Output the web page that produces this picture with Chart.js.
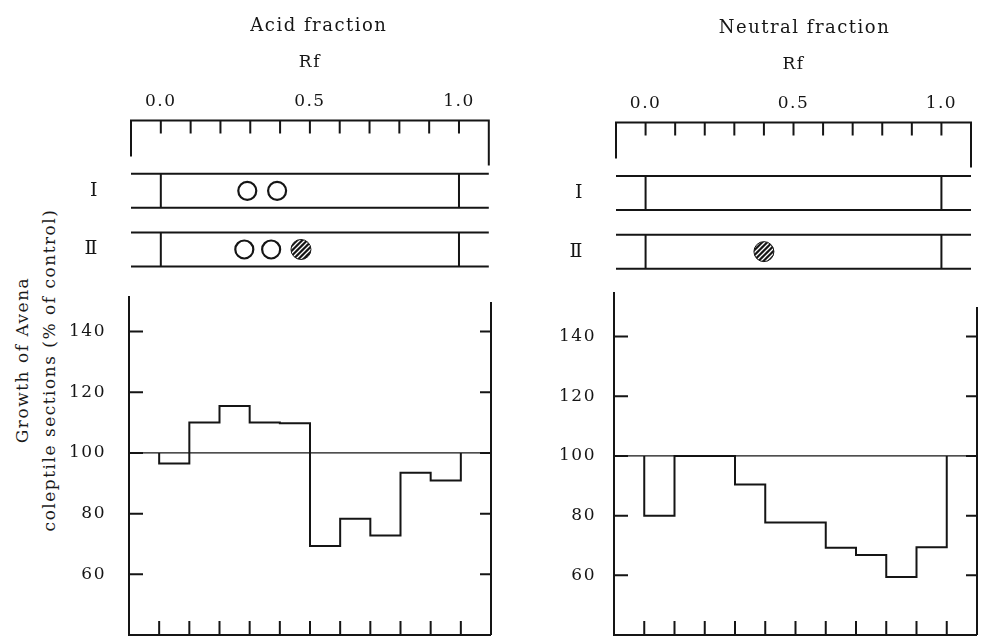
<!DOCTYPE html>
<html>
<head>
<meta charset="utf-8">
<script src="https://cdn.jsdelivr.net/npm/chart.js@4.4.1/dist/chart.umd.min.js"></script>
<style>
  html, body { margin: 0; padding: 0; background: #fff; }
  #fig { position: relative; width: 982px; height: 636px; overflow: hidden; background: #fff; }
  #fig canvas { position: absolute; }
  .ylab {
    position: absolute; white-space: nowrap; color: #1a1a1a;
    font-family: 'DejaVu Serif', serif; font-size: 17px; letter-spacing: 1.5px;
    transform: translate(-50%, -50%) rotate(-90deg);
  }
</style>
</head>
<body>
<div id="fig">
  <div class="ylab" style="left:22px; top:360px;">Growth of Avena</div>
  <div class="ylab" style="left:49px; top:370px;">coleptile sections (% of control)</div>
  <canvas id="acidStrip" width="500" height="290" style="left:0; top:0; width:500px; height:290px;"></canvas>
  <canvas id="acidGrowth" width="500" height="351" style="left:0; top:285px; width:500px; height:351px;"></canvas>
  <canvas id="neutralStrip" width="492" height="290" style="left:490px; top:2px; width:492px; height:290px;"></canvas>
  <canvas id="neutralGrowth" width="492" height="351" style="left:490px; top:285px; width:492px; height:351px;"></canvas>
</div>
<script>
const INK = '#151515';

// Rf scale
const rfMin = -0.1, rfMax = 1.1;
const rfEdges = [0.0, 0.1, 0.2, 0.3, 0.4, 0.5, 0.6, 0.7, 0.8, 0.9, 1.0];
const rfLabelTicks = [0.0, 0.5, 1.0];
const rfFrontLines = [0.0, 1.0];

// chromatogram strips
const stripRows = ['Ⅰ', 'Ⅱ'];
const acidOpenRf = [0.29, 0.39, 0.28, 0.37];
const acidOpenRow = ['Ⅰ', 'Ⅰ', 'Ⅱ', 'Ⅱ'];
const acidHatchedRf = [0.47];
const acidHatchedRow = ['Ⅱ'];
const neutralOpenRf = [];
const neutralOpenRow = [];
const neutralHatchedRf = [0.40];
const neutralHatchedRow = ['Ⅱ'];

// growth per Rf zone (0.0-0.1, 0.1-0.2, ... 0.9-1.0), % of control
const acidGrowth = [96.5, 110, 115.5, 110, 109.8, 69.3, 78.3, 72.8, 93.5, 90.9];
const neutralGrowth = [80, 100, 100, 90.4, 77.7, 77.7, 69.2, 66.8, 59.4, 69.4];
const controlLevel = 100;
const yTickValues = [60, 80, 100, 120, 140];
const yMin = 40;

Chart.defaults.font.family = "'DejaVu Serif', 'Liberation Serif', serif";
Chart.defaults.color = INK;

// canvas letterSpacing is reset on every resize, so set it before layout and draw
const spacedText = {
  id: 'spacedText',
  beforeLayout(chart) { chart.ctx.letterSpacing = '1.5px'; },
  beforeDraw(chart) { chart.ctx.letterSpacing = '1.5px'; }
};
Chart.register(spacedText);

// the printed titles sit a little right of the axis centre
const titleNudge = {
  id: 'titleNudge',
  afterLayout(chart, args, opts) {
    const t = chart.titleBlock;
    if (t && opts.dx) { t.left += opts.dx; t.right += opts.dx; }
  }
};

// fixed axis size, and no extra label padding pushed into the layout
function fixSize(prop, size) {
  return s => {
    s[prop] = size;
    s.paddingTop = s.paddingBottom = s.paddingLeft = s.paddingRight = 0;
  };
}

function hatchPattern() {
  const c = document.createElement('canvas');
  c.width = c.height = 5;
  const g = c.getContext('2d');
  g.fillStyle = INK;
  g.fillRect(0, 0, 5, 5);
  g.strokeStyle = '#fff';
  g.lineWidth = 1.3;
  g.beginPath();
  g.moveTo(-1, 6); g.lineTo(6, -1);
  g.moveTo(-1, 1); g.lineTo(1, -1);
  g.moveTo(4, 6); g.lineTo(6, 4);
  g.stroke();
  return g.createPattern(c, 'repeat');
}

// ruler on top + the two paper strips
const stripFrame = {
  id: 'stripFrame',
  beforeDatasetsDraw(chart) {
    const { ctx, chartArea: a, scales: { x, y } } = chart;
    const rulerTop = a.top - 41;
    ctx.save();
    ctx.strokeStyle = INK;
    ctx.lineWidth = 2;
    ctx.beginPath();
    ctx.moveTo(a.left, rulerTop + 36);
    ctx.lineTo(a.left, rulerTop);
    ctx.lineTo(a.right, rulerTop);
    ctx.lineTo(a.right, rulerTop + 45);
    rfEdges.forEach(v => {
      const px = x.getPixelForValue(v);
      ctx.moveTo(px, rulerTop);
      ctx.lineTo(px, rulerTop + 13);
    });
    stripRows.forEach((r, i) => {
      const cy = y.getPixelForValue(i);
      const t = cy - 17, b = cy + 17;
      ctx.moveTo(a.left, t); ctx.lineTo(a.right, t);
      ctx.moveTo(a.left, b); ctx.lineTo(a.right, b);
      rfFrontLines.forEach(v => {
        const px = x.getPixelForValue(v);
        ctx.moveTo(px, t); ctx.lineTo(px, b);
      });
    });
    ctx.stroke();
    ctx.restore();
  }
};

// right axis, inward ticks and bottom ticks of the growth plot
const growthFrame = {
  id: 'growthFrame',
  afterDatasetsDraw(chart, args, opts) {
    const { ctx, chartArea: a, scales: { x, y } } = chart;
    ctx.save();
    ctx.strokeStyle = INK;
    ctx.lineWidth = 2;
    ctx.beginPath();
    ctx.moveTo(a.right, a.top + opts.rightDrop);
    ctx.lineTo(a.right, a.bottom);
    ctx.moveTo(a.left, a.bottom);
    ctx.lineTo(a.right, a.bottom);
    yTickValues.forEach(v => {
      const py = y.getPixelForValue(v);
      ctx.moveTo(a.left, py); ctx.lineTo(a.left + 14, py);
      ctx.moveTo(a.right, py); ctx.lineTo(a.right - 11, py);
    });
    rfEdges.forEach(v => {
      const px = x.getPixelForValue(v);
      ctx.moveTo(px, a.bottom); ctx.lineTo(px, a.bottom - 14);
    });
    ctx.stroke();
    ctx.restore();
  }
};

function spots(rf, rows) {
  return rf.map((v, i) => ({ x: v, y: rows[i] }));
}

function buildStrip(id, title, titleDx, openRf, openRow, hatchRf, hatchRow, axisLeft, padRight) {
  return new Chart(document.getElementById(id), {
    type: 'scatter',
    data: {
      datasets: [
        { data: spots(openRf, openRow), pointStyle: 'circle', pointRadius: 9, borderWidth: 2.2, borderColor: INK, backgroundColor: '#fff' },
        { data: spots(hatchRf, hatchRow), pointStyle: 'circle', pointRadius: 10, borderWidth: 1, borderColor: INK, backgroundColor: hatchPattern() }
      ]
    },
    options: {
      responsive: false,
      maintainAspectRatio: false,
      animation: false,
      events: [],
      layout: { padding: { left: 0, right: padRight, top: 0, bottom: 5.5 } },
      plugins: {
        legend: { display: false },
        tooltip: { enabled: false },
        title: { display: true, text: title, fullSize: false, color: INK, font: { size: 18, weight: 'normal' }, padding: { top: 16, bottom: 7 } },
        subtitle: { display: true, text: 'Rf', fullSize: false, color: INK, font: { size: 17 }, padding: { top: 7.5, bottom: 0 } },
        titleNudge: { dx: titleDx }
      },
      scales: {
        x: {
          type: 'linear', position: 'top', min: rfMin, max: rfMax,
          grid: { display: false, drawTicks: false },
          border: { display: false },
          afterBuildTicks: s => { s.ticks = rfLabelTicks.map(v => ({ value: v })); },
          afterFit: fixSize('height', 89),
          ticks: { padding: 50, autoSkip: false, maxRotation: 0, font: { size: 17 }, callback: v => Number(v).toFixed(1) }
        },
        y: {
          type: 'category', labels: stripRows, offset: true,
          grid: { display: false, drawTicks: false },
          border: { display: false },
          afterFit: fixSize('width', axisLeft),
          ticks: { padding: 32, font: { size: 19 } }
        }
      }
    },
    plugins: [stripFrame, titleNudge]
  });
}

function stepPoints(values) {
  const pts = [{ x: rfEdges[0], y: controlLevel }];
  values.forEach((v, i) => pts.push({ x: rfEdges[i], y: v }));
  pts.push({ x: rfEdges[rfEdges.length - 1], y: controlLevel });
  return pts;
}

function buildGrowth(id, values, yMax, axisLeft, padRight, padTop, tickPad, rightDrop) {
  return new Chart(document.getElementById(id), {
    type: 'line',
    data: {
      datasets: [
        { data: [{ x: rfMin, y: controlLevel }, { x: rfMax, y: controlLevel }], borderColor: INK, borderWidth: 1.3, pointRadius: 0 },
        { data: stepPoints(values), stepped: true, borderColor: INK, borderWidth: 2, pointRadius: 0, borderJoinStyle: 'miter' }
      ]
    },
    options: {
      responsive: false,
      maintainAspectRatio: false,
      animation: false,
      events: [],
      layout: { padding: { left: 0, right: padRight, top: padTop, bottom: 1 } },
      plugins: {
        legend: { display: false },
        tooltip: { enabled: false },
        growthFrame: { rightDrop: rightDrop }
      },
      scales: {
        x: { type: 'linear', display: false, min: rfMin, max: rfMax },
        y: {
          type: 'linear', min: yMin, max: yMax,
          grid: { display: false, drawTicks: false },
          border: { display: true, width: 2, color: INK },
          afterBuildTicks: s => { s.ticks = yTickValues.map(v => ({ value: v })); },
          afterFit: fixSize('width', axisLeft),
          ticks: { padding: tickPad, font: { size: 17 } }
        }
      }
    },
    plugins: [growthFrame]
  });
}

buildStrip('acidStrip', 'Acid fraction', 9, acidOpenRf, acidOpenRow, acidHatchedRf, acidHatchedRow, 131, 6);
buildStrip('neutralStrip', 'Neutral fraction', 11, neutralOpenRf, neutralOpenRow, neutralHatchedRf, neutralHatchedRow, 126, 1);
buildGrowth('acidGrowth', acidGrowth, 151.4, 129, 9, 12, 23, 5);
buildGrowth('neutralGrowth', neutralGrowth, 154.6, 124, 5, 8, 18, 14);
</script>
</body>
</html>
